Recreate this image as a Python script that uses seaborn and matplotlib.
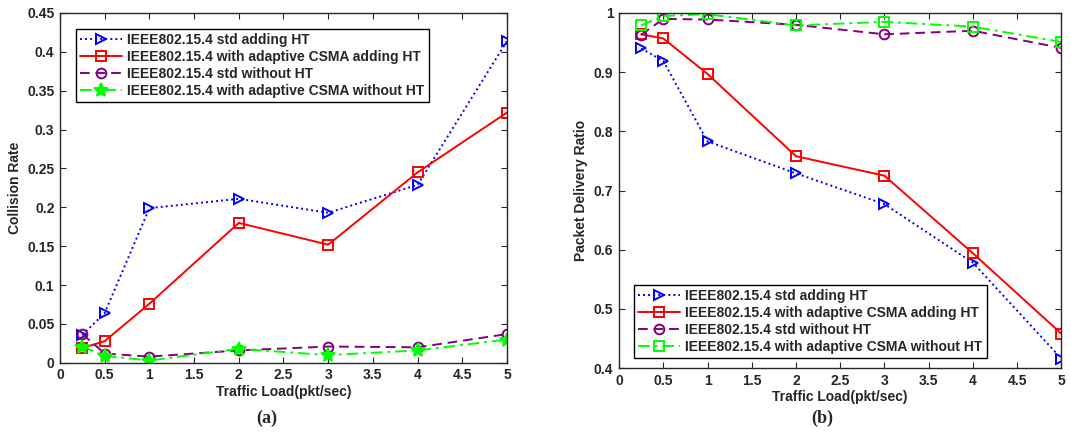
import matplotlib
matplotlib.use('Agg')
import matplotlib.pyplot as plt
import pandas as pd
import seaborn as sns

sns.set_style('ticks')
plt.rcParams.update(
    {
        'font.family': ['Liberation Sans', 'DejaVu Sans'],
        'font.weight': 'bold',
        'axes.labelweight': 'bold',
        'xtick.direction': 'in',
        'ytick.direction': 'in',
        'xtick.top': True,
        'ytick.right': True,
        'axes.linewidth': 1.0,
    }
)

# traffic load values (pkt/sec)
load = [0.25, 0.5, 1, 2, 3, 4, 5]

labels = [
    'IEEE802.15.4 std adding HT',
    'IEEE802.15.4 with adaptive CSMA adding HT',
    'IEEE802.15.4 std without HT',
    'IEEE802.15.4 with adaptive CSMA without HT',
]

# (a) collision rate
coll_std_ht = [0.036, 0.064, 0.199, 0.211, 0.193, 0.229, 0.414]
coll_csma_ht = [0.019, 0.028, 0.076, 0.180, 0.152, 0.245, 0.322]
coll_std = [0.037, 0.012, 0.008, 0.016, 0.021, 0.020, 0.037]
coll_csma = [0.021, 0.009, 0.003, 0.018, 0.010, 0.016, 0.030]

# (b) packet delivery ratio
pdr_std_ht = [0.940, 0.919, 0.783, 0.729, 0.677, 0.578, 0.416]
pdr_csma_ht = [0.964, 0.957, 0.897, 0.758, 0.725, 0.594, 0.458]
pdr_std = [0.963, 0.990, 0.989, 0.980, 0.964, 0.970, 0.941]
pdr_csma = [0.979, 0.995, 0.998, 0.979, 0.985, 0.977, 0.951]

colors = ['#0000ff', '#ff0000', '#800080', '#00ff00']
styles = [(0, (1, 1.6)), '-', (0, (5, 3)), (0, (6, 2.5, 1.5, 2.5))]

fig = plt.figure(figsize=(10.71, 4.33), dpi=100)
ax1 = fig.add_axes([0.056, 0.162, 0.4174, 0.808])
ax2 = fig.add_axes([0.578, 0.150, 0.413, 0.820])


def draw(ax, series, markers, fills):
    for vals, lab, c, ls, m, f in zip(series, labels, colors, styles, markers, fills):
        df = pd.DataFrame({'load': load, 'val': vals})
        sns.lineplot(
            data=df,
            x='load',
            y='val',
            ax=ax,
            color=c,
            linestyle=ls,
            linewidth=1.4,
            marker=m,
            markersize=7 if m != '*' else 10,
            markerfacecolor=c if f else 'none',
            markeredgecolor=c,
            markeredgewidth=1.4,
            label=lab,
        )
    ax.set_xlim(0, 5)
    ax.set_xticks([0, 0.5, 1, 1.5, 2, 2.5, 3, 3.5, 4, 4.5, 5])
    ax.set_xticklabels(['0', '0.5', '1', '1.5', '2', '2.5', '3', '3.5', '4', '4.5', '5'])
    ax.set_xlabel('Traffic Load(pkt/sec)', fontsize=10, labelpad=2)
    ax.tick_params(labelsize=10, length=4, width=0.8, pad=4)
    for s in ax.spines.values():
        s.set_visible(True)


draw(ax1, [coll_std_ht, coll_csma_ht, coll_std, coll_csma],
     ['>', 's', 'o', '*'], [False, False, False, True])
ax1.set_ylim(0, 0.45)
ax1.set_yticks([0, 0.05, 0.1, 0.15, 0.2, 0.25, 0.3, 0.35, 0.4, 0.45])
ax1.set_yticklabels(['0', '0.05', '0.1', '0.15', '0.2', '0.25', '0.3', '0.35', '0.4', '0.45'])
ax1.set_ylabel('Collision Rate', fontsize=10, labelpad=4)
ax1.legend(loc='upper left', bbox_to_anchor=(0.036, 0.955), fontsize=10, numpoints=1,
           handlelength=3.0, frameon=True, fancybox=False, edgecolor='black',
           framealpha=1, borderpad=0.3, labelspacing=0.22, handletextpad=0.4,
           borderaxespad=0).get_frame().set_linewidth(1.0)

draw(ax2, [pdr_std_ht, pdr_csma_ht, pdr_std, pdr_csma],
     ['>', 's', 'o', 's'], [False, False, False, False])
ax2.set_ylim(0.4, 1.0)
ax2.set_yticks([0.4, 0.5, 0.6, 0.7, 0.8, 0.9, 1.0])
ax2.set_yticklabels(['0.4', '0.5', '0.6', '0.7', '0.8', '0.9', '1'])
ax2.set_ylabel('Packet Delivery Ratio', fontsize=10, labelpad=4)
ax2.legend(loc='lower left', bbox_to_anchor=(0.034, 0.028), fontsize=10, numpoints=1,
           handlelength=3.0, frameon=True, fancybox=False, edgecolor='black',
           framealpha=1, borderpad=0.3, labelspacing=0.22, handletextpad=0.4,
           borderaxespad=0).get_frame().set_linewidth(1.0)

fig.text(0.249, 0.035, '(a)', ha='center', va='center', fontsize=13,
         fontweight='bold', family=['Liberation Serif', 'DejaVu Serif'])
fig.text(0.768, 0.035, '(b)', ha='center', va='center', fontsize=13,
         fontweight='bold', family=['Liberation Serif', 'DejaVu Serif'])

fig.savefig('out.png', dpi=100)
